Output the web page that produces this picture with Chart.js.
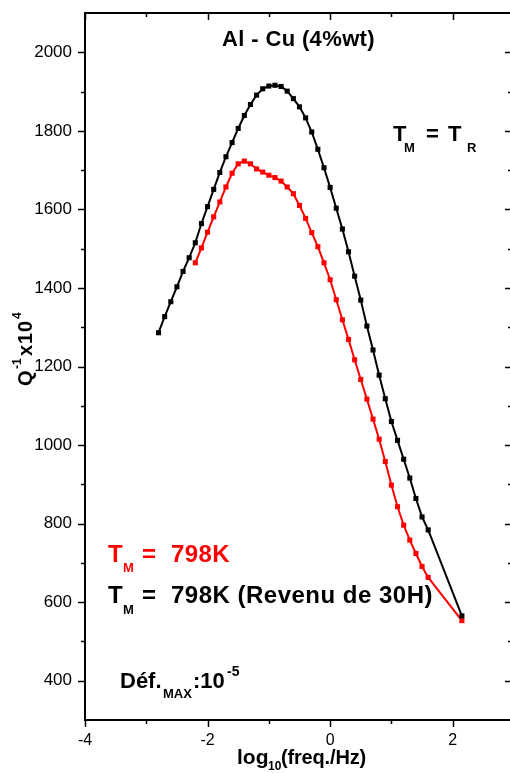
<!DOCTYPE html>
<html><head><meta charset="utf-8">
<script src="https://cdn.jsdelivr.net/npm/chart.js@4/dist/chart.umd.min.js"></script>
<style>html,body{margin:0;padding:0;background:#fff;overflow:hidden}canvas{display:block}</style>
</head><body>
<canvas id="c" width="510" height="773"></canvas>
<script>
// log10(freq./Hz) and Q^-1 x10^4
const logFreqBlack = [-2.8,-2.7,-2.6,-2.5,-2.4,-2.3,-2.2,-2.1,-2.0,-1.9,-1.8,-1.7,-1.6,-1.5,-1.4,-1.3,-1.2,-1.1,-1.0,-0.9,-0.8,-0.7,-0.6,-0.5,-0.4,-0.3,-0.2,-0.1,0.0,0.1,0.2,0.3,0.4,0.5,0.6,0.7,0.8,0.9,1.0,1.1,1.2,1.3,1.4,1.5,1.6,2.15];
const q1Black = [1286,1327,1365,1403,1442,1477,1515,1564,1607,1651,1694,1734,1770,1806,1839,1867,1891,1907,1914,1916,1913,1901,1882,1861,1833,1797,1753,1706,1656,1603,1550,1492,1430,1369,1303,1242,1178,1118,1060,1012,964,916,864,817,784,565];
const logFreqRed = [-2.2,-2.1,-2.0,-1.9,-1.8,-1.7,-1.6,-1.5,-1.4,-1.3,-1.2,-1.1,-1.0,-0.9,-0.8,-0.7,-0.6,-0.5,-0.4,-0.3,-0.2,-0.1,0.0,0.1,0.2,0.3,0.4,0.5,0.6,0.7,0.8,0.9,1.0,1.1,1.2,1.3,1.4,1.5,1.6,2.15];
const q1Red = [1464,1502,1542,1581,1619,1657,1692,1716,1723,1716,1703,1695,1687,1681,1672,1657,1640,1610,1577,1541,1505,1464,1421,1370,1319,1269,1217,1167,1117,1066,1015,958,898,843,796,758,724,691,663,553];
const xMajorTicks = [-4,-2,0,2];
const xMinorTicks = [-3,-1,1];
const yMajorTicks = [400,600,800,1000,1200,1400,1600,1800,2000];
const yMinorTicks = [500,700,900,1100,1300,1500,1700,1900];

const FONT = '"Liberation Sans", Arial, sans-serif';

function drawParts(ctx, parts) {
  for (const p of parts) {
    ctx.font = 'bold ' + p.size + 'px ' + FONT;
    ctx.fillStyle = p.color || '#000';
    ctx.textBaseline = 'alphabetic';
    ctx.textAlign = 'left';
    ctx.letterSpacing = '0px';
    if (p.w) {
      const m = ctx.measureText(p.t).width;
      ctx.letterSpacing = ((p.w - m) / p.t.length) + 'px';
    }
    ctx.fillText(p.t, p.x, p.y);
    ctx.letterSpacing = '0px';
  }
}

const framePlugin = {
  id: 'frame',
  afterDraw(chart) {
    const ctx = chart.ctx;
    const xs = chart.scales.x, ys = chart.scales.y;
    const a = chart.chartArea;
    const rightX = 512;
    ctx.save();
    ctx.strokeStyle = '#000';
    ctx.lineWidth = 2;
    ctx.beginPath();
    ctx.moveTo(a.left, a.top); ctx.lineTo(a.left, a.bottom + 1);
    ctx.moveTo(a.left - 1, a.bottom); ctx.lineTo(rightX, a.bottom);
    ctx.moveTo(a.left - 1, a.top); ctx.lineTo(rightX, a.top);
    ctx.stroke();
    ctx.lineWidth = 1.5;
    ctx.beginPath();
    const maj = 7, min = 4;
    for (const v of xMajorTicks) {
      const px = Math.round(xs.getPixelForValue(v)) + 0.5;
      ctx.moveTo(px, a.bottom); ctx.lineTo(px, a.bottom + maj);
      ctx.moveTo(px, a.top); ctx.lineTo(px, a.top + maj);
    }
    for (const v of xMinorTicks) {
      const px = Math.round(xs.getPixelForValue(v)) + 0.5;
      ctx.moveTo(px, a.bottom); ctx.lineTo(px, a.bottom + min);
      ctx.moveTo(px, a.top); ctx.lineTo(px, a.top + min);
    }
    for (const v of yMajorTicks) {
      const py = Math.round(ys.getPixelForValue(v)) + 0.5;
      ctx.moveTo(a.left, py); ctx.lineTo(a.left - maj, py);
      ctx.moveTo(rightX, py); ctx.lineTo(rightX - maj, py);
    }
    for (const v of yMinorTicks) {
      const py = Math.round(ys.getPixelForValue(v)) + 0.5;
      ctx.moveTo(a.left, py); ctx.lineTo(a.left - min, py);
      ctx.moveTo(rightX, py); ctx.lineTo(rightX - min, py);
    }
    ctx.stroke();

    // title and annotations
    drawParts(ctx, [{t: 'Al - Cu (4%wt)', x: 222, y: 46, size: 22, w: 153}]);
    drawParts(ctx, [
      {t: 'T', x: 393, y: 141, size: 22},
      {t: 'M', x: 404, y: 152, size: 13},
      {t: '=', x: 426, y: 141, size: 22},
      {t: 'T', x: 448, y: 141, size: 22},
      {t: 'R', x: 467, y: 152, size: 13}
    ]);
    drawParts(ctx, [
      {t: 'T', x: 108, y: 562, size: 24, color: '#ff0000'},
      {t: 'M', x: 123, y: 572, size: 13, color: '#ff0000'},
      {t: '=', x: 142, y: 562, size: 24, color: '#ff0000'},
      {t: '798K', x: 171, y: 562, size: 24, color: '#ff0000', w: 59}
    ]);
    drawParts(ctx, [
      {t: 'T', x: 108, y: 603, size: 24},
      {t: 'M', x: 123, y: 614, size: 13},
      {t: '=', x: 142, y: 603, size: 24},
      {t: '798K (Revenu de 30H)', x: 171, y: 603, size: 24, w: 262}
    ]);
    drawParts(ctx, [
      {t: 'Déf.', x: 120, y: 688, size: 22},
      {t: 'MAX', x: 163, y: 698, size: 13},
      {t: ':10', x: 193, y: 688, size: 22},
      {t: '-5', x: 227, y: 676, size: 14}
    ]);
    // x axis title
    drawParts(ctx, [
      {t: 'log', x: 237, y: 764, size: 21},
      {t: '10', x: 268, y: 770, size: 12},
      {t: '(freq./Hz)', x: 281, y: 764, size: 20, w: 85}
    ]);
    // y axis title (rotated)
    ctx.save();
    ctx.translate(32, 386);
    ctx.rotate(-Math.PI / 2);
    drawParts(ctx, [
      {t: 'Q', x: 0, y: 0, size: 20},
      {t: '-1', x: 17, y: -11, size: 12},
      {t: 'x10', x: 30, y: 0, size: 20, w: 36},
      {t: '4', x: 67, y: -11, size: 12}
    ]);
    ctx.restore();
    ctx.restore();
  }
};

function zeroPad(s) { s.paddingTop = 0; s.paddingBottom = 0; s.paddingLeft = 0; s.paddingRight = 0; }

new Chart(document.getElementById('c'), {
  type: 'scatter',
  data: {
    datasets: [
      {
        label: 'TM = 798K (Revenu de 30H)',
        data: logFreqBlack.map((x, i) => ({x: x, y: q1Black[i]})),
        borderColor: '#000000', backgroundColor: '#000000',
        showLine: true, borderWidth: 2, tension: 0,
        pointStyle: 'rect', pointRadius: 3.6, pointBorderWidth: 0, order: 0
      },
      {
        label: 'TM = 798K',
        data: logFreqRed.map((x, i) => ({x: x, y: q1Red[i]})),
        borderColor: '#ff0000', backgroundColor: '#ff0000',
        showLine: true, borderWidth: 2, tension: 0,
        pointStyle: 'rect', pointRadius: 3.6, pointBorderWidth: 0, order: 1
      }
    ]
  },
  options: {
    responsive: false, animation: false, devicePixelRatio: 1,
    layout: {padding: {top: 13, right: 0, left: 0, bottom: 0}},
    plugins: {legend: {display: false}, tooltip: {enabled: false}},
    scales: {
      x: {
        type: 'linear', min: -4, max: 2.87,
        afterFit(s) { s.height = 53; zeroPad(s); },
        afterBuildTicks(s) { s.ticks = xMajorTicks.map(v => ({value: v})); },
        grid: {display: false, drawTicks: false},
        border: {display: false},
        ticks: {color: '#000', font: {size: 16, family: FONT}, padding: 11, maxRotation: 0, autoSkip: false,
                callback: v => String(v)}
      },
      y: {
        type: 'linear', min: 300, max: 2100,
        afterFit(s) { s.width = 85; zeroPad(s); },
        afterBuildTicks(s) { s.ticks = yMajorTicks.map(v => ({value: v})); },
        grid: {display: false, drawTicks: false},
        border: {display: false},
        ticks: {color: '#000', font: {size: 17, family: FONT}, padding: 13, autoSkip: false,
                callback: v => String(v)}
      }
    }
  },
  plugins: [framePlugin]
});
</script>
</body></html>
